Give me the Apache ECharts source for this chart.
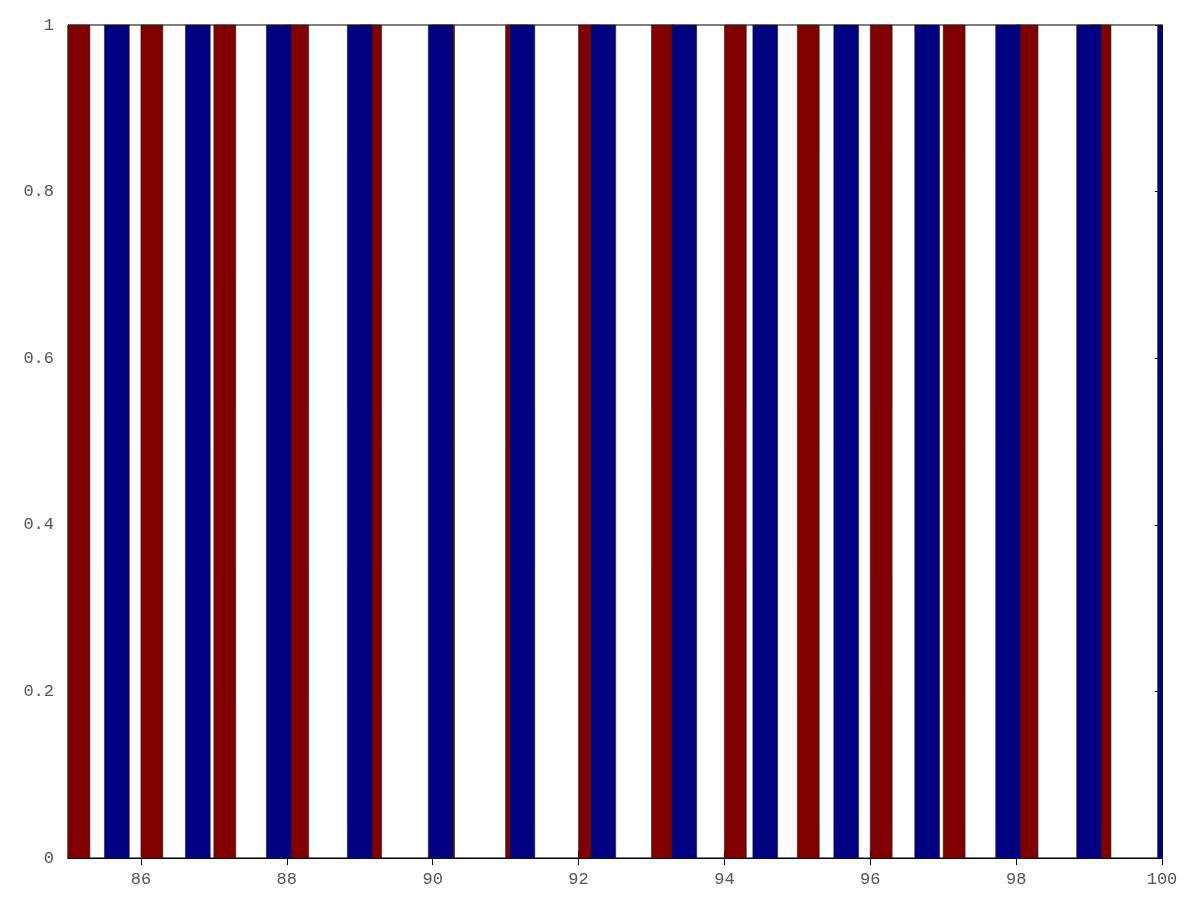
<!DOCTYPE html>
<html>
<head>
<meta charset="utf-8">
<script src="https://cdn.jsdelivr.net/npm/echarts@6/dist/echarts.min.js"></script>
<style>
  html, body { margin: 0; padding: 0; background: #fff; }
</style>
</head>
<body>
<div id="chart" style="width: 1200px; height: 900px;"></div>
<script>
// bar left edges (x units), heights and widths
const redStart = [85, 86, 87, 88, 89, 90, 91, 92, 93, 94, 95, 96, 97, 98, 99];
const redHeight = [1, 1, 1, 1, 1, 1, 1, 1, 1, 1, 1, 1, 1, 1, 1];
const redWidth = 0.3;
const blueStart = [85.50, 86.61, 87.72, 88.83, 89.94, 91.06, 92.17, 93.28, 94.39, 95.50, 96.61, 97.72, 98.83, 99.94];
const blueHeight = [1, 1, 1, 1, 1, 1, 1, 1, 1, 1, 1, 1, 1, 1];
const blueWidth = 0.34;
const xTicks = [86, 88, 90, 92, 94, 96, 98, 100];
const yTicks = [0, 0.2, 0.4, 0.6, 0.8, 1];

function rectItem(color) {
  return function (params, api) {
    let x0 = api.value(0), x1 = api.value(1), h = api.value(2);
    let p0 = api.coord([x0, h]);
    let p1 = api.coord([x1, 0]);
    let shape = echarts.graphic.clipRectByRect(
      { x: p0[0], y: p0[1], width: p1[0] - p0[0], height: p1[1] - p0[1] },
      { x: params.coordSys.x, y: params.coordSys.y, width: params.coordSys.width, height: params.coordSys.height }
    );
    if (!shape) return;
    return {
      type: "rect",
      shape: shape,
      style: { fill: color, stroke: "#222", lineWidth: 0.6 }
    };
  };
}

function toData(starts, heights, w) {
  return starts.map(function (s, i) { return [s, s + w, heights[i]]; });
}

const labelStyle = { fontFamily: "Liberation Mono", fontSize: 17, color: "#555" };

let chart = echarts.init(document.getElementById("chart"), null, { renderer: "canvas" });
chart.setOption({
  animation: false,
  backgroundColor: "#fff",
  grid: { left: 68, right: 38, top: 25, bottom: 42, show: true, borderColor: "#000", borderWidth: 1 },
  xAxis: [
    {
      type: "value", min: 85, max: 100, interval: 1,
      axisLine: { show: true, lineStyle: { color: "#000" } },
      axisTick: { show: true, inside: true, length: 7, customValues: xTicks, lineStyle: { color: "#000" } },
      axisLabel: Object.assign({ margin: 13, customValues: xTicks }, labelStyle),
      splitLine: { show: false }
    },
    {
      type: "value", position: "top", min: 85, max: 100, interval: 1,
      axisLine: { show: true, lineStyle: { color: "#000" } },
      axisTick: { show: true, inside: true, length: 7, customValues: xTicks, lineStyle: { color: "#000" } },
      axisLabel: { show: false },
      splitLine: { show: false }
    }
  ],
  yAxis: [
    {
      type: "value", min: 0, max: 1, interval: 0.2,
      axisLine: { show: true, lineStyle: { color: "#000" } },
      axisTick: { show: true, inside: true, length: 7, lineStyle: { color: "#000" } },
      axisLabel: Object.assign({ margin: 14, formatter: function (v) { return yTicks.indexOf(+v.toFixed(1)) >= 0 ? String(+v.toFixed(1)) : ""; } }, labelStyle),
      splitLine: { show: false }
    },
    {
      type: "value", position: "right", min: 0, max: 1, interval: 0.2,
      axisLine: { show: true, lineStyle: { color: "#000" } },
      axisTick: { show: true, inside: true, length: 7, lineStyle: { color: "#000" } },
      axisLabel: { show: false },
      splitLine: { show: false }
    }
  ],
  series: [
    {
      name: "red", type: "custom", renderItem: rectItem("#800000"),
      encode: { x: [0, 1], y: 2 },
      data: toData(redStart, redHeight, redWidth)
    },
    {
      name: "blue", type: "custom", renderItem: rectItem("#000080"),
      encode: { x: [0, 1], y: 2 },
      data: toData(blueStart, blueHeight, blueWidth)
    }
  ]
});
</script>
</body>
</html>
